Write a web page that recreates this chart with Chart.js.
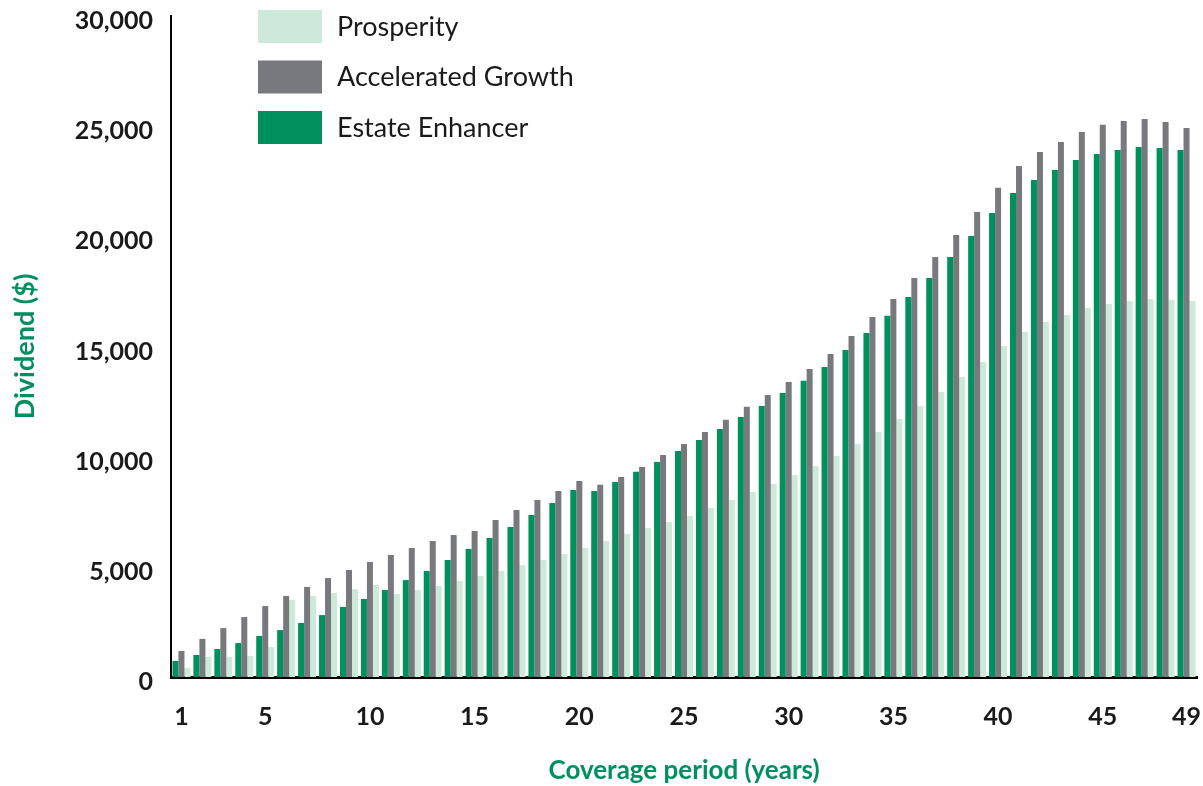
<!DOCTYPE html>
<html>
<head>
<meta charset="utf-8">
<script src="https://cdn.jsdelivr.net/npm/chart.js@4.4.1/dist/chart.umd.min.js"></script>
<style>
  html, body { margin: 0; padding: 0; background: #ffffff; }
  #wrap { position: relative; width: 1203px; height: 786px; }
</style>
</head>
<body>
<div id="wrap"><canvas id="c" width="1203" height="786"></canvas></div>
<script>
const years = Array.from({length: 49}, (_, i) => String(i + 1));
const shownTicks = ['1', '5', '10', '15', '20', '25', '30', '35', '40', '45', '49'];
const yTicks = [0, 5000, 10000, 15000, 20000, 25000, 30000];

const estateEnhancer = [
  730, 1000, 1270, 1540, 1860, 2130, 2450, 2810, 3180, 3540,
  3950, 4400, 4810, 5310, 5810, 6310, 6810, 7350, 7900, 8490,
  8440, 8850, 9310, 9760, 10260, 10760, 11260, 11800, 12300, 12890,
  13440, 14070, 14840, 15610, 16390, 17250, 18110, 19060, 20020, 21060,
  21970, 22560, 23010, 23470, 23740, 23920, 24060, 24010, 23920
];
const acceleratedGrowth = [
  1180, 1730, 2220, 2720, 3220, 3680, 4090, 4490, 4860, 5220,
  5540, 5860, 6170, 6450, 6630, 7130, 7580, 8030, 8440, 8900,
  8720, 9080, 9530, 10080, 10580, 11120, 11670, 12260, 12800, 13390,
  13980, 14660, 15480, 16340, 17160, 18110, 19060, 20060, 21110, 22200,
  23190, 23830, 24280, 24740, 25060, 25240, 25330, 25190, 24920
];
const prosperity = [
  410, 910, 910, 950, 1360, 3500, 3680, 3810, 3990, 4180,
  3770, 3950, 4130, 4360, 4580, 4810, 5080, 5310, 5580, 5860,
  6170, 6490, 6760, 7040, 7310, 7670, 8030, 8400, 8760, 9170,
  9580, 10030, 10580, 11120, 11710, 12300, 12940, 13620, 14300, 15020,
  15660, 16110, 16430, 16750, 16930, 17070, 17160, 17110, 17070
];

const GREEN = '#00905e';
const GRAY = '#78797d';
const LIGHT = '#cde9da';
const TEXT = '#1a1a1a';
const FONT = 'Lato, "Open Sans", sans-serif';

const customLegend = {
  id: 'customLegend',
  afterDraw(chart) {
    const ctx = chart.ctx;
    const order = [2, 1, 0];
    ctx.save();
    ctx.font = '400 27px ' + FONT;
    ctx.textBaseline = 'middle';
    ctx.textAlign = 'left';
    order.forEach((di, k) => {
      const ds = chart.data.datasets[di];
      const y = 10 + k * 50.5;
      ctx.fillStyle = ds.backgroundColor;
      ctx.fillRect(258, y, 64, 33);
      ctx.fillStyle = TEXT;
      ctx.fillText(ds.label, 337, y + 17);
    });
    ctx.restore();
  }
};

new Chart(document.getElementById('c'), {
  type: 'bar',
  data: {
    labels: years,
    datasets: [
      { label: 'Estate Enhancer', data: estateEnhancer, backgroundColor: GREEN },
      { label: 'Accelerated Growth', data: acceleratedGrowth, backgroundColor: GRAY },
      { label: 'Prosperity', data: prosperity, backgroundColor: LIGHT }
    ]
  },
  options: {
    responsive: false,
    animation: false,
    devicePixelRatio: 1,
    layout: { padding: { left: 0, right: 6, top: 16, bottom: 0 } },
    datasets: { bar: { categoryPercentage: 0.86, barPercentage: 1.0, borderWidth: 0 } },
    plugins: {
      legend: { display: false },
      tooltip: { enabled: false }
    },
    scales: {
      x: {
        grid: { display: false, drawTicks: false },
        border: { display: true, color: '#000000', width: 3 },
        ticks: {
          autoSkip: false,
          maxRotation: 0,
          minRotation: 0,
          padding: 25,
          color: TEXT,
          font: { family: FONT, size: 25, weight: 'bold' },
          callback: function (value) {
            const lab = this.getLabelForValue(value);
            return shownTicks.includes(lab) ? lab : '';
          }
        },
        title: {
          display: true,
          text: 'Coverage period (years)',
          color: GREEN,
          font: { family: FONT, size: 26, weight: 'bold' },
          padding: { top: 0, bottom: 0 }
        },
        afterFit: (scale) => {
          scale.height = 109;
          scale.paddingLeft = 0;
          scale.paddingRight = 0;
        }
      },
      y: {
        min: 0,
        max: 30000,
        grid: { display: false, drawTicks: false },
        border: { display: true, color: '#000000', width: 2 },
        afterBuildTicks: (scale) => { scale.ticks = yTicks.map(v => ({ value: v })); },
        ticks: {
          padding: 18,
          labelOffset: 5,
          color: TEXT,
          font: { family: FONT, size: 25, weight: 'bold' },
          callback: (v) => v.toLocaleString('en-US')
        },
        title: {
          display: true,
          text: 'Dividend ($)',
          color: GREEN,
          font: { family: FONT, size: 27, weight: 'bold' },
          padding: { top: 9, bottom: 0 }
        },
        afterFit: (scale) => {
          scale.width = 171;
          scale.paddingTop = 0;
          scale.paddingBottom = 0;
        }
      }
    }
  },
  plugins: [customLegend]
});
</script>
</body>
</html>
